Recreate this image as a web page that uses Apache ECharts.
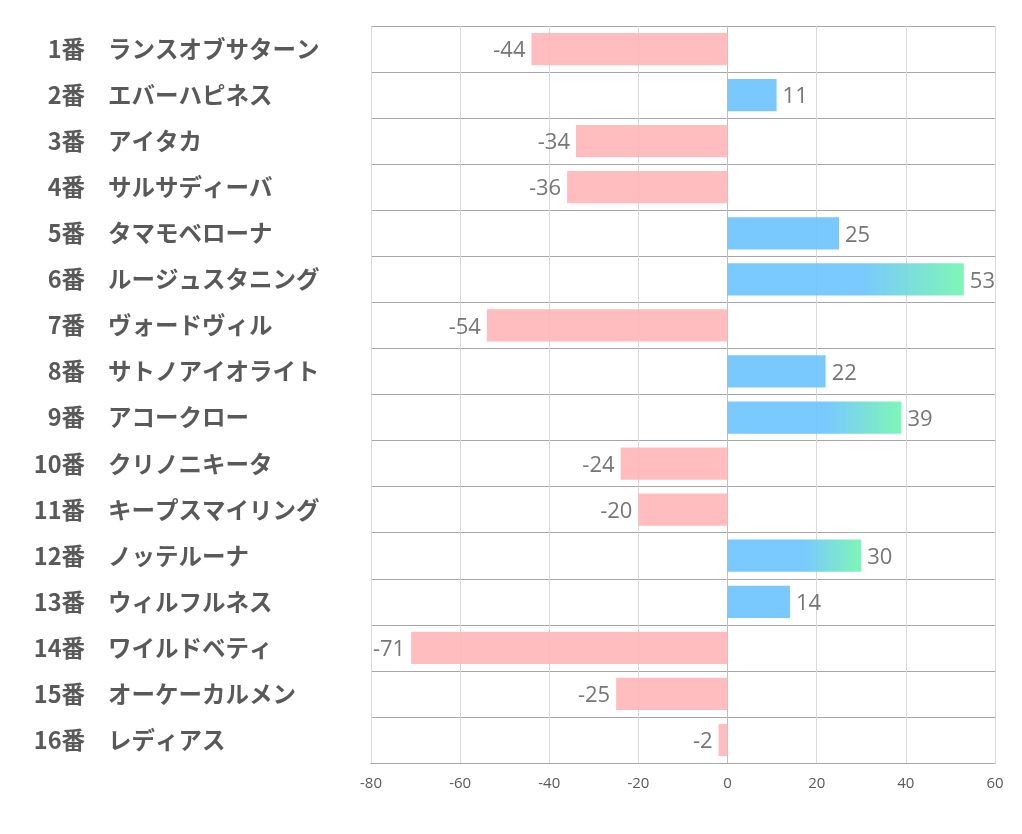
<!DOCTYPE html>
<html><head><meta charset="utf-8">
<script src="https://cdn.jsdelivr.net/npm/echarts@6/dist/echarts.min.js"></script>
<style>html,body{margin:0;padding:0;background:#fff}#c{width:1022px;height:834px}</style>
</head><body><div id="c"></div>
<script>
const numbers = ['1番','2番','3番','4番','5番','6番','7番','8番','9番','10番','11番','12番','13番','14番','15番','16番'];
const names = ['ランスオブサターン','エバーハピネス','アイタカ','サルサディーバ','タマモベローナ','ルージュスタニング','ヴォードヴィル','サトノアイオライト','アコークロー','クリノニキータ','キープスマイリング','ノッテルーナ','ウィルフルネス','ワイルドベティ','オーケーカルメン','レディアス'];
const values = [-44, 11, -34, -36, 25, 53, -54, 22, 39, -24, -20, 30, 14, -71, -25, -2];
const xTicks = [-80, -60, -40, -20, 0, 20, 40, 60];

const BLUE = 'rgba(110,196,255,0.92)';
const PINK = 'rgba(255,180,183,0.88)';
const GREEN = 'rgba(120,245,178,0.95)';

const data = values.map(v => {
  let color = v < 0 ? PINK : BLUE;
  if (v >= 30) {
    color = new echarts.graphic.LinearGradient(0, 0, 1, 0, [
      {offset: 0, color: BLUE},
      {offset: 0.56, color: BLUE},
      {offset: 1, color: GREEN}
    ]);
  }
  return {
    value: v,
    itemStyle: {color: color},
    label: {position: v < 0 ? 'left' : 'right'}
  };
});

const labelFont = {fontSize: 23.5, fontWeight: 'bold', color: '#595959', fontFamily: '"Noto Sans CJK JP", sans-serif'};

const chart = echarts.init(document.getElementById('c'));
chart.setOption({
  animation: false,
  grid: {left: 371, right: 27, top: 26, bottom: 71, containLabel: false},
  xAxis: {
    type: 'value', min: xTicks[0], max: xTicks[xTicks.length - 1], interval: 20,
    axisLine: {show: true, lineStyle: {color: '#a6a6a6', width: 1}},
    axisTick: {show: false},
    splitLine: {show: true, lineStyle: {color: '#d9d9d9', width: 1}},
    axisLabel: {color: '#595959', fontSize: 15, margin: 13, fontFamily: '"Open Sans", "Noto Sans", sans-serif'}
  },
  yAxis: [{
    type: 'category', data: names, inverse: true, position: 'left',
    axisLine: {show: true, lineStyle: {color: '#bfbfbf'}},
    axisTick: {show: false},
    splitLine: {show: true, interval: 0, lineStyle: {color: '#a6a6a6', width: 1}},
    axisLabel: Object.assign({interval: 0, align: 'left', margin: 263}, labelFont)
  }, {
    type: 'category', data: numbers, inverse: true, position: 'left',
    axisLine: {show: false}, axisTick: {show: false}, splitLine: {show: false},
    axisLabel: Object.assign({interval: 0, align: 'right', margin: 286}, labelFont)
  }],
  series: [{
    type: 'bar', data: data, barWidth: '70%', yAxisIndex: 0,
    label: {show: true, distance: 6, offset: [0, 2], color: '#767676', fontSize: 22, fontFamily: '"Open Sans", "Noto Sans", sans-serif'}
  }]
});
</script>
</body></html>
